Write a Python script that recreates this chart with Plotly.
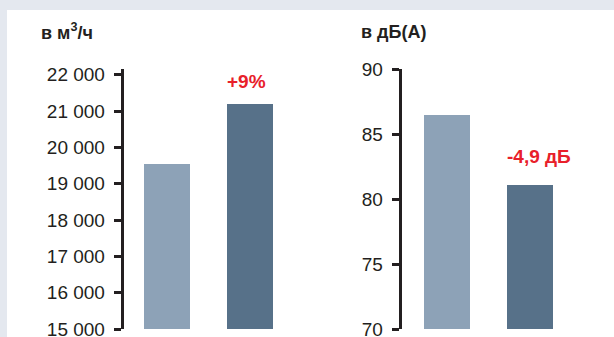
import plotly.graph_objects as go

# Data
categories = ["до", "после"]
airflow_values = [19550, 21200]
noise_values = [86.5, 81.1]
airflow_ticks = [15000, 16000, 17000, 18000, 19000, 20000, 21000, 22000]
airflow_ticktext = ["15 000", "16 000", "17 000", "18 000", "19 000", "20 000", "21 000", "22 000"]
noise_ticks = [70, 75, 80, 85, 90]
airflow_title = "в м<sup>3</sup>/ч"
noise_title = "в дБ(А)"
airflow_change = "+9%"
noise_change = "-4,9 дБ"

W, H = 614, 337
bar_colors = ["#8da2b7", "#577189"]
red = "#e8202a"
ink = "#231f20"
font_family = "Liberation Sans, Arial, sans-serif"

fig = go.Figure()
fig.add_trace(go.Bar(x=categories, y=airflow_values, marker_color=bar_colors,
                     marker_line_width=0, width=0.555, xaxis="x", yaxis="y",
                     showlegend=False, hoverinfo="skip"))
fig.add_trace(go.Bar(x=categories, y=noise_values, marker_color=bar_colors,
                     marker_line_width=0, width=0.555, xaxis="x2", yaxis="y2",
                     showlegend=False, hoverinfo="skip"))

def px_x(p):
    return p / W

def px_y(p):
    return (H - p) / H

ydom = [px_y(329), px_y(69)]

axis_common = dict(showline=True, linecolor=ink, linewidth=2.5, ticks="outside",
                   ticklen=7, tickwidth=2.5, tickcolor=ink, showgrid=False,
                   zeroline=False, tickfont=dict(family=font_family, size=19, color=ink),
                   ticklabelstandoff=5, ticklabeloverflow="allow", automargin=False)
xaxis_common = dict(showline=False, showticklabels=False, ticks="", showgrid=False,
                    zeroline=False, automargin=False)

fig.update_layout(
    template="none",
    width=W, height=H, autosize=False,
    margin=dict(l=0, r=0, t=0, b=0, pad=0),
    paper_bgcolor="#e4e8ef",
    plot_bgcolor="rgba(0,0,0,0)",
    bargap=0,
    xaxis=dict(domain=[px_x(123.5), px_x(290.5)], range=[-0.515, 1.5], **xaxis_common),
    xaxis2=dict(domain=[px_x(401.5), px_x(570.5)], range=[-0.54, 1.5], **xaxis_common),
    yaxis=dict(domain=ydom, range=[15000, 22160], tickvals=airflow_ticks,
               ticktext=airflow_ticktext, anchor="x", **axis_common),
    yaxis2=dict(domain=ydom, range=[70, 90], tickvals=noise_ticks, anchor="x2",
                **axis_common),
    shapes=[dict(type="rect", xref="paper", yref="paper", x0=px_x(7), x1=1.0,
                 y0=0, y1=px_y(10), fillcolor="white", line=dict(width=0), layer="below")],
    annotations=[
        dict(text=airflow_title, xref="paper", yref="paper", x=px_x(39), y=px_y(32),
             xanchor="left", yanchor="middle", showarrow=False,
             font=dict(family=font_family, size=18, color=ink, weight="bold")),
        dict(text=noise_title, xref="paper", yref="paper", x=px_x(359), y=px_y(32),
             xanchor="left", yanchor="middle", showarrow=False,
             font=dict(family=font_family, size=18, color=ink, weight="bold")),
        dict(text=airflow_change, xref="x", yref="y", x=categories[1], y=airflow_values[1],
             xanchor="center", yanchor="bottom", yshift=10, xshift=-3, showarrow=False,
             font=dict(family=font_family, size=19, color=red, weight="bold")),
        dict(text=noise_change, xref="x2", yref="y2", x=categories[1], y=noise_values[1],
             xanchor="center", yanchor="bottom", yshift=16, xshift=10, showarrow=False,
             font=dict(family=font_family, size=19, color=red, weight="bold")),
    ],
)

post = (
    "document.documentElement.style.margin='0';"
    "document.body.style.margin='0';"
    "document.body.style.overflow='hidden';"
)

fig.write_html("out.html", config={"displayModeBar": False, "responsive": False},
               post_script=post)
